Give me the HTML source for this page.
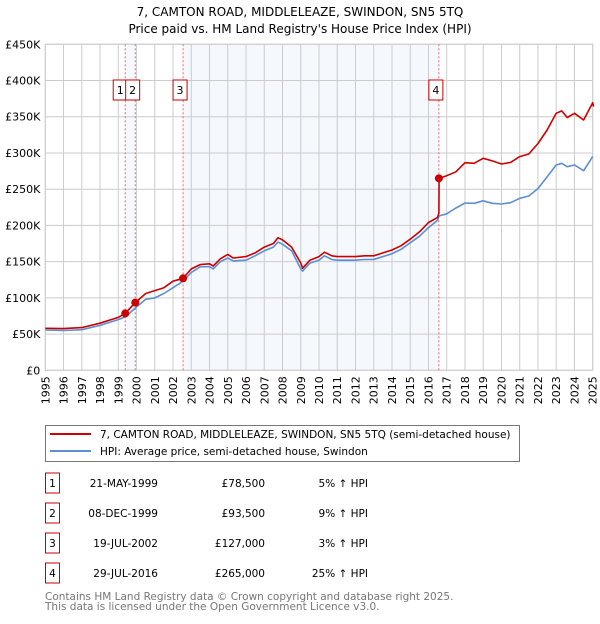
<!DOCTYPE html>
<html><head><meta charset="utf-8"><style>
body{margin:0;background:#fff;font-family:"DejaVu Sans","Liberation Sans",sans-serif;}
svg text{font-family:"DejaVu Sans","Liberation Sans",sans-serif;}
</style></head><body>
<svg id="chart" width="600" height="620" xmlns="http://www.w3.org/2000/svg">
<text x="300" y="16" text-anchor="middle" font-size="12">7, CAMTON ROAD, MIDDLELEAZE, SWINDON, SN5 5TQ</text>
<text x="300" y="33" text-anchor="middle" font-size="12">Price paid vs. HM Land Registry's House Price Index (HPI)</text>
<g id="plot"></g>
<g>
<rect x="45.5" y="425.5" width="474" height="36" fill="#fff" stroke="#777"/>
<line x1="50" y1="434" x2="91" y2="434" stroke="#cc0000" stroke-width="2"/>
<text x="100" y="438" font-size="10.5">7, CAMTON ROAD, MIDDLELEAZE, SWINDON, SN5 5TQ (semi-detached house)</text>
<line x1="50" y1="451" x2="91" y2="451" stroke="#5b8fd4" stroke-width="2"/>
<text x="100" y="455" font-size="10.5">HPI: Average price, semi-detached house, Swindon</text>
</g>
<g id="table"></g>
<text x="45" y="600" font-size="10.5" fill="#777">Contains HM Land Registry data © Crown copyright and database right 2025.</text>
<text x="45" y="610" font-size="10.5" fill="#777">This data is licensed under the Open Government Licence v3.0.</text>
</svg>
<script>
const hpiYears=[1995,1996,1997,1998,1999,1999.4,1999.93,2000.5,2001,2001.5,2002,2002.55,2003,2003.5,2004,2004.2,2004.6,2005,2005.3,2006,2006.5,2007,2007.5,2007.75,2008,2008.5,2009,2009.1,2009.5,2010,2010.3,2010.7,2011,2012,2012.5,2013,2013.5,2014,2014.5,2015,2015.5,2016,2016.5,2016.57,2017,2017.5,2018,2018.5,2019,2019.5,2020,2020.5,2021,2021.5,2022,2022.5,2023,2023.3,2023.6,2024,2024.5,2025];
const hpiValues=[55.6,55,56,62,70,74,86,98,100,106,114,123,135,143,143,140,150,155,151,152,158,165,170,177,174,165,140,137,148,152,158,153,152,152,153,153,157,161,167,176,185,197,207,213,216,224,231,230.5,234,230.5,229.6,231.4,237.4,240.6,251,267,283.4,285.7,281,283.4,275.5,295];
const priceYears=[1995,1996,1997,1998,1999,1999.38,1999.93,2000.5,2001,2001.5,2002,2002.55,2003,2003.5,2004,2004.2,2004.6,2005,2005.3,2006,2006.5,2007,2007.5,2007.75,2008,2008.5,2009,2009.1,2009.5,2010,2010.3,2010.7,2011,2012,2012.5,2013,2013.5,2014,2014.5,2015,2015.5,2016,2016.5,2016.57,2016.58,2017,2017.5,2018,2018.5,2019,2019.5,2020,2020.5,2021,2021.5,2022,2022.5,2023,2023.3,2023.6,2024,2024.5,2025,2025.05];
const priceValues=[58,57.5,59,65,73,78.5,93.5,106,110,114,123,127,140,146,147,144,154,160,155,157,162,170,175,183,180,170,148,141,152,157,163,158,157,157,158,158,162,166,172,181,191,204,211,217,265,268.6,274,286.6,285.7,292.6,289,284.8,287,295,298.6,313,331.7,354.8,358,349,354.8,345.5,369.4,364];
const saleLabels=["1","2","3","4"];
const saleYears=[1999.38,1999.93,2002.55,2016.57];
const saleValues=[78.5,93.5,127,265];
const saleDates=["21-MAY-1999","08-DEC-1999","19-JUL-2002","29-JUL-2016"];
const salePrices=["£78,500","£93,500","£127,000","£265,000"];
const saleDiffs=["5% ↑ HPI","9% ↑ HPI","3% ↑ HPI","25% ↑ HPI"];
const yTicks=[0,50,100,150,200,250,300,350,400,450];
const yTickLabels=["£0","£50K","£100K","£150K","£200K","£250K","£300K","£350K","£400K","£450K"];
const xTicks=[1995,1996,1997,1998,1999,2000,2001,2002,2003,2004,2005,2006,2007,2008,2009,2010,2011,2012,2013,2014,2015,2016,2017,2018,2019,2020,2021,2022,2023,2024,2025];

const X0=45.3,X1=592.7,Y0=370.3,Y1=44.3;
const xs=y=>X0+(y-1995)/30*(X1-X0);
const ys=v=>Y0-v/450*(Y0-Y1);
const NS="http://www.w3.org/2000/svg";
const plot=document.getElementById('plot');
function mk(tag,attrs,parent){const e=document.createElementNS(NS,tag);for(const k in attrs)e.setAttribute(k,attrs[k]);(parent||plot).appendChild(e);return e;}
for(const [a,b] of [[0,1],[2,3]]){
 const r=mk('rect',{x:xs(saleYears[a]),y:Y1,width:xs(saleYears[b])-xs(saleYears[a]),height:Y0-Y1,fill:'#eef3fc',opacity:0.6});
 
 
}
yTicks.forEach((t,i)=>{
 const l=mk('line',{x1:X0,x2:X1,y1:ys(t),y2:ys(t),stroke:'#ccc'});
 
 
 const tx=mk('text',{x:X0-5,y:ys(t)+4,'text-anchor':'end','font-size':11});
 
 
 tx.textContent=yTickLabels[i];
});
xTicks.forEach(t=>{
 const l=mk('line',{x1:xs(t),x2:xs(t),y1:Y1,y2:Y0,stroke:'#ccc'});
 
 
 const tx=mk('text',{x:0,y:0,'text-anchor':'end','font-size':11,transform:`translate(${xs(t)+4},${Y0+6}) rotate(-90)`});
 
 
 tx.textContent=t;
});
const frame=mk('rect',{x:X0,y:Y1,width:X1-X0,height:Y0-Y1,fill:'none',stroke:'#ccc'});


saleYears.forEach((y,i)=>{
 const l=mk('line',{x1:xs(y),x2:xs(y),y1:Y1,y2:Y0,stroke:'#e66','stroke-dasharray':'2,2'});
 
 
});
function path(xa,va,color,name){
 const d=xa.map((x,i)=>(i?'L':'M')+xs(x).toFixed(1)+','+ys(va[i]).toFixed(1)).join('');
 const p=mk('path',{d,fill:'none',stroke:color,'stroke-width':1.6,'stroke-linejoin':'round'});
 
 
}
path(hpiYears,hpiValues,'#5b8fd4','hpi-line');
path(priceYears,priceValues,'#cc0000','price-paid-line');
const boxOffsets=[-5,-2.6,-3,-3];
saleYears.forEach((y,i)=>{
 const c=mk('circle',{cx:xs(y),cy:ys(saleValues[i]),r:4,fill:'#cc0000'});
 
 
 const bx=xs(y)+boxOffsets[i]-7;
 const g=mk('g',{});
 
 
 mk('rect',{x:bx,y:80,width:14,height:20,fill:'#fff',stroke:'#cc0000'},g);
 const t=mk('text',{x:bx+7,y:94,'text-anchor':'middle','font-size':11},g);
 t.textContent=saleLabels[i];
});
const tb=document.getElementById('table');
saleLabels.forEach((s,i)=>{
 const cy=483+i*30;
 const g=mk('g',{},tb);
 
 
 mk('rect',{x:45.5,y:cy-10,width:14,height:20,fill:'#fff',stroke:'#cc0000'},g);
 const t0=mk('text',{x:52.5,y:cy+4,'text-anchor':'middle','font-size':10.5},g);t0.textContent=s;
 const t1=mk('text',{x:158,y:cy+4,'text-anchor':'end','font-size':10.5},g);t1.textContent=saleDates[i];
 const t2=mk('text',{x:265,y:cy+4,'text-anchor':'end','font-size':10.5},g);t2.textContent=salePrices[i];
 const t3=mk('text',{x:368,y:cy+4,'text-anchor':'end','font-size':10.5},g);t3.textContent=saleDiffs[i];
});
</script>
</body></html>
